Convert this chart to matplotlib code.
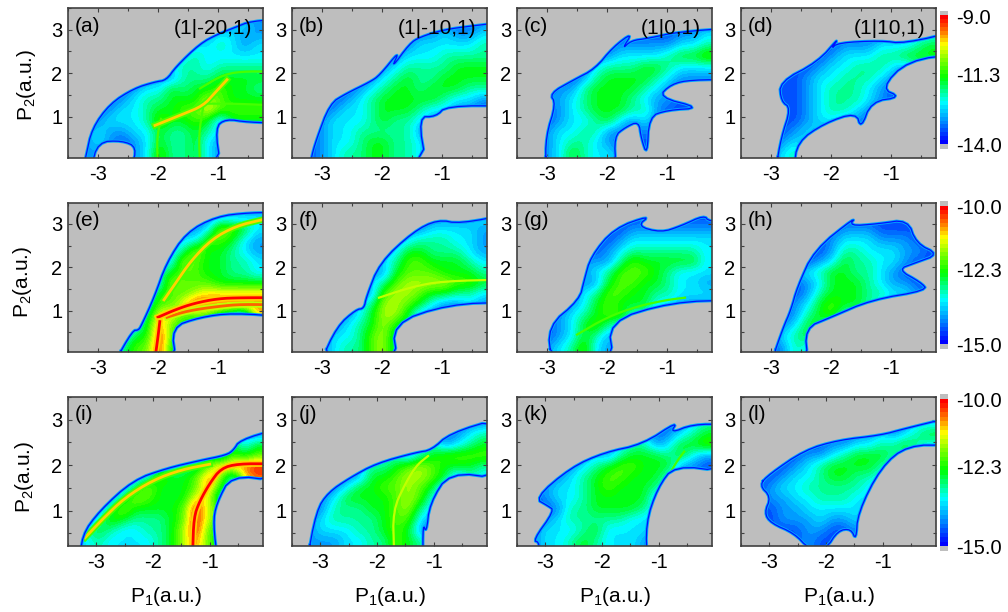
#!/usr/bin/env python3
"""Momentum maps P1-P2 for twelve field settings, three rows with own colour scales."""

import numpy as np
import matplotlib

matplotlib.use("Agg")
import matplotlib.pyplot as plt
from matplotlib.colors import LinearSegmentedColormap, ListedColormap
from matplotlib.patches import Polygon
from matplotlib.ticker import MultipleLocator

# =============================================================================
# DATA: coarse reading of each map, top row first, in half decades above the
# bottom of the colour scale (0 = below the scale, drawn grey)
# =============================================================================

PANEL_A = [
    [0, 0, 0, 0, 0, 0, 0, 0, 0, 0, 0, 0, 0, 0, 0, 0],
    [0, 0, 0, 0, 0, 0, 0, 0, 0, 0, 0, 0, 0, 2, 3, 2],
    [0, 0, 0, 0, 0, 0, 0, 0, 0, 0, 0, 1, 3, 3, 2, 1],
    [0, 0, 0, 0, 0, 0, 0, 0, 0, 0, 1, 3, 4, 3, 2, 3],
    [0, 0, 0, 0, 0, 0, 0, 0, 0, 1, 4, 3, 3, 3, 3, 3],
    [0, 0, 0, 0, 0, 0, 0, 0, 1, 4, 4, 3, 4, 4, 4, 4],
    [0, 0, 0, 0, 0, 0, 0, 0, 2, 4, 4, 4, 5, 5, 5, 5],
    [0, 0, 0, 0, 0, 0, 1, 3, 5, 4, 5, 5, 6, 5, 5, 4],
    [0, 0, 0, 0, 1, 3, 4, 4, 5, 5, 5, 7, 6, 5, 5, 5],
    [0, 0, 0, 1, 3, 3, 4, 5, 5, 6, 6, 8, 6, 6, 6, 6],
    [0, 0, 1, 3, 3, 3, 4, 6, 5, 5, 6, 5, 2, 1, 1, 1],
    [0, 1, 3, 2, 2, 3, 3, 5, 4, 4, 5, 4, 1, 0, 0, 0],
    [0, 1, 3, 1, 1, 2, 3, 5, 4, 4, 5, 3, 0, 0, 0, 0],
    [0, 2, 1, 0, 0, 2, 3, 6, 4, 4, 5, 3, 0, 0, 0, 0],
]
PANEL_B = [
    [0, 0, 0, 0, 0, 0, 0, 0, 0, 0, 0, 0, 0, 0, 0, 0],
    [0, 0, 0, 0, 0, 0, 0, 0, 0, 0, 0, 0, 0, 0, 1, 2],
    [0, 0, 0, 0, 0, 0, 0, 0, 0, 0, 0, 1, 3, 2, 2, 3],
    [0, 0, 0, 0, 0, 0, 0, 0, 0, 1, 3, 3, 3, 3, 3, 4],
    [0, 0, 0, 0, 0, 0, 0, 0, 1, 3, 3, 3, 4, 4, 4, 4],
    [0, 0, 0, 0, 0, 0, 0, 1, 3, 4, 4, 4, 4, 5, 5, 5],
    [0, 0, 0, 0, 0, 0, 1, 3, 4, 5, 4, 4, 5, 5, 5, 5],
    [0, 0, 0, 0, 0, 1, 3, 4, 5, 5, 4, 5, 5, 5, 4, 4],
    [0, 0, 0, 0, 1, 3, 4, 5, 5, 5, 5, 5, 4, 3, 3, 2],
    [0, 0, 0, 1, 3, 3, 4, 5, 5, 5, 4, 3, 1, 0, 0, 0],
    [0, 0, 1, 3, 3, 3, 4, 5, 4, 4, 3, 0, 0, 0, 0, 0],
    [0, 0, 2, 3, 3, 4, 4, 4, 4, 4, 2, 0, 0, 0, 0, 0],
    [0, 1, 2, 3, 3, 4, 5, 5, 4, 4, 1, 0, 0, 0, 0, 0],
    [0, 1, 2, 3, 4, 4, 5, 5, 4, 4, 1, 0, 0, 0, 0, 0],
]
PANEL_C = [
    [0, 0, 0, 0, 0, 0, 0, 0, 0, 0, 0, 0, 0, 0, 0, 0],
    [0, 0, 0, 0, 0, 0, 0, 0, 0, 0, 0, 0, 0, 0, 0, 0],
    [0, 0, 0, 0, 0, 0, 0, 0, 0, 1, 0, 0, 0, 1, 2, 3],
    [0, 0, 0, 0, 0, 0, 0, 0, 2, 1, 1, 1, 2, 3, 3, 4],
    [0, 0, 0, 0, 0, 0, 0, 2, 3, 3, 3, 3, 4, 5, 5, 6],
    [0, 0, 0, 0, 0, 0, 3, 4, 4, 4, 5, 5, 4, 3, 3, 3],
    [0, 0, 0, 0, 1, 2, 4, 5, 5, 5, 5, 4, 3, 1, 1, 1],
    [0, 0, 1, 2, 2, 4, 5, 5, 5, 5, 4, 3, 1, 0, 0, 0],
    [0, 1, 2, 2, 3, 4, 5, 5, 5, 4, 3, 2, 2, 1, 0, 0],
    [0, 0, 0, 1, 3, 4, 5, 5, 5, 4, 4, 2, 1, 0, 0, 0],
    [0, 0, 0, 2, 3, 3, 4, 5, 3, 2, 3, 0, 0, 0, 0, 0],
    [0, 0, 2, 3, 3, 4, 4, 2, 1, 1, 2, 0, 0, 0, 0, 0],
    [0, 0, 2, 3, 4, 4, 3, 2, 1, 0, 1, 0, 0, 0, 0, 0],
    [0, 0, 2, 3, 5, 4, 3, 3, 1, 0, 0, 0, 0, 0, 0, 0],
]
PANEL_D = [
    [0, 0, 0, 0, 0, 0, 0, 0, 0, 0, 0, 0, 0, 0, 0, 0],
    [0, 0, 0, 0, 0, 0, 0, 0, 0, 0, 0, 0, 0, 0, 0, 0],
    [0, 0, 0, 0, 0, 0, 0, 0, 1, 0, 0, 0, 0, 0, 1, 3],
    [0, 0, 0, 0, 0, 0, 0, 0, 2, 1, 1, 1, 1, 3, 4, 5],
    [0, 0, 0, 0, 0, 0, 0, 2, 3, 3, 3, 4, 4, 5, 5, 5],
    [0, 0, 0, 0, 0, 0, 2, 3, 3, 4, 4, 4, 3, 2, 0, 0],
    [0, 0, 0, 0, 1, 2, 3, 3, 4, 4, 4, 3, 1, 0, 0, 0],
    [0, 0, 0, 0, 1, 2, 3, 4, 4, 4, 3, 2, 0, 0, 0, 0],
    [0, 0, 0, 0, 1, 2, 3, 4, 4, 4, 3, 2, 1, 0, 0, 0],
    [0, 0, 0, 0, 1, 2, 3, 4, 4, 3, 2, 0, 0, 0, 0, 0],
    [0, 0, 0, 0, 0, 2, 3, 3, 2, 2, 0, 0, 0, 0, 0, 0],
    [0, 0, 0, 0, 1, 3, 2, 1, 0, 1, 0, 0, 0, 0, 0, 0],
    [0, 0, 0, 1, 3, 2, 0, 0, 0, 0, 0, 0, 0, 0, 0, 0],
    [0, 0, 0, 1, 4, 2, 0, 0, 0, 0, 0, 0, 0, 0, 0, 0],
]
PANEL_E = [
    [0, 0, 0, 0, 0, 0, 0, 0, 0, 0, 0, 0, 0, 0, 0, 0],
    [0, 0, 0, 0, 0, 0, 0, 0, 0, 0, 0, 1, 3, 3, 3, 3],
    [0, 0, 0, 0, 0, 0, 0, 0, 0, 0, 0, 3, 7, 6, 5, 3],
    [0, 0, 0, 0, 0, 0, 0, 0, 0, 0, 3, 6, 6, 5, 3, 2],
    [0, 0, 0, 0, 0, 0, 0, 0, 0, 4, 7, 5, 5, 4, 3, 2],
    [0, 0, 0, 0, 0, 0, 0, 0, 3, 7, 6, 5, 5, 4, 4, 3],
    [0, 0, 0, 0, 0, 0, 0, 1, 5, 6, 6, 5, 5, 4, 4, 3],
    [0, 0, 0, 0, 0, 0, 0, 3, 7, 6, 6, 6, 5, 5, 5, 5],
    [0, 0, 0, 0, 0, 0, 1, 5, 6, 6, 7, 8, 8, 8, 8, 8],
    [0, 0, 0, 0, 0, 0, 3, 6, 6, 8, 10, 9, 9, 9, 9, 9],
    [0, 0, 0, 0, 0, 1, 4, 8, 8, 6, 6, 6, 4, 3, 2, 1],
    [0, 0, 0, 0, 0, 3, 5, 9, 6, 1, 0, 0, 0, 0, 0, 0],
    [0, 0, 0, 0, 2, 5, 5, 10, 6, 0, 0, 0, 0, 0, 0, 0],
    [0, 0, 0, 0, 4, 6, 6, 10, 5, 0, 0, 0, 0, 0, 0, 0],
]
PANEL_F = [
    [0, 0, 0, 0, 0, 0, 0, 0, 0, 0, 0, 0, 0, 0, 0, 0],
    [0, 0, 0, 0, 0, 0, 0, 0, 0, 0, 0, 1, 0, 1, 2, 3],
    [0, 0, 0, 0, 0, 0, 0, 0, 0, 1, 2, 3, 3, 3, 3, 2],
    [0, 0, 0, 0, 0, 0, 0, 0, 0, 3, 4, 4, 4, 3, 3, 2],
    [0, 0, 0, 0, 0, 0, 0, 0, 3, 5, 5, 4, 4, 4, 3, 2],
    [0, 0, 0, 0, 0, 0, 0, 1, 4, 6, 6, 5, 5, 5, 4, 3],
    [0, 0, 0, 0, 0, 0, 0, 2, 5, 6, 6, 6, 5, 5, 5, 4],
    [0, 0, 0, 0, 0, 0, 0, 4, 6, 7, 7, 7, 7, 6, 6, 5],
    [0, 0, 0, 0, 0, 0, 2, 6, 7, 7, 6, 5, 5, 4, 4, 3],
    [0, 0, 0, 0, 0, 1, 4, 7, 7, 6, 5, 3, 2, 2, 1, 0],
    [0, 0, 0, 0, 1, 3, 5, 7, 7, 5, 2, 0, 0, 0, 0, 0],
    [0, 0, 0, 1, 3, 4, 5, 7, 5, 0, 0, 0, 0, 0, 0, 0],
    [0, 0, 1, 3, 3, 4, 6, 7, 4, 0, 0, 0, 0, 0, 0, 0],
    [0, 0, 1, 3, 4, 4, 6, 7, 4, 0, 0, 0, 0, 0, 0, 0],
]
PANEL_G = [
    [0, 0, 0, 0, 0, 0, 0, 0, 0, 0, 0, 0, 0, 0, 0, 0],
    [0, 0, 0, 0, 0, 0, 0, 0, 0, 0, 1, 0, 0, 0, 1, 1],
    [0, 0, 0, 0, 0, 0, 0, 0, 0, 2, 1, 1, 1, 1, 1, 2],
    [0, 0, 0, 0, 0, 0, 0, 0, 0, 3, 3, 3, 3, 3, 3, 3],
    [0, 0, 0, 0, 0, 0, 0, 0, 3, 4, 4, 4, 4, 4, 4, 3],
    [0, 0, 0, 0, 0, 0, 0, 2, 4, 6, 5, 5, 5, 5, 5, 3],
    [0, 0, 0, 0, 0, 0, 0, 4, 6, 6, 6, 5, 4, 3, 3, 3],
    [0, 0, 0, 0, 0, 0, 2, 5, 6, 6, 5, 5, 4, 3, 3, 2],
    [0, 0, 0, 0, 0, 1, 4, 6, 6, 5, 5, 4, 4, 3, 3, 3],
    [0, 0, 0, 0, 1, 3, 5, 6, 5, 5, 5, 3, 1, 1, 1, 0],
    [0, 0, 0, 1, 3, 4, 5, 6, 6, 3, 0, 0, 0, 0, 0, 0],
    [0, 0, 0, 2, 3, 5, 6, 4, 3, 0, 0, 0, 0, 0, 0, 0],
    [0, 0, 0, 2, 3, 5, 4, 2, 3, 0, 0, 0, 0, 0, 0, 0],
    [0, 0, 1, 3, 4, 6, 3, 2, 3, 0, 0, 0, 0, 0, 0, 0],
]
PANEL_H = [
    [0, 0, 0, 0, 0, 0, 0, 0, 0, 0, 0, 0, 0, 0, 0, 0],
    [0, 0, 0, 0, 0, 0, 0, 0, 0, 1, 0, 0, 0, 0, 0, 0],
    [0, 0, 0, 0, 0, 0, 0, 0, 2, 2, 1, 1, 1, 1, 0, 0],
    [0, 0, 0, 0, 0, 0, 0, 0, 3, 3, 3, 2, 2, 2, 1, 0],
    [0, 0, 0, 0, 0, 0, 0, 2, 4, 4, 3, 3, 3, 2, 2, 1],
    [0, 0, 0, 0, 0, 0, 0, 3, 5, 4, 4, 3, 3, 1, 1, 0],
    [0, 0, 0, 0, 0, 0, 1, 5, 5, 4, 4, 3, 2, 0, 0, 0],
    [0, 0, 0, 0, 0, 0, 3, 5, 5, 5, 4, 3, 2, 1, 1, 0],
    [0, 0, 0, 0, 0, 2, 4, 5, 5, 5, 4, 4, 3, 3, 2, 0],
    [0, 0, 0, 0, 0, 3, 5, 6, 5, 5, 1, 0, 0, 0, 0, 0],
    [0, 0, 0, 0, 2, 4, 5, 6, 3, 0, 0, 0, 0, 0, 0, 0],
    [0, 0, 0, 0, 3, 5, 5, 2, 0, 0, 0, 0, 0, 0, 0, 0],
    [0, 0, 0, 1, 4, 5, 2, 0, 0, 0, 0, 0, 0, 0, 0, 0],
    [0, 0, 0, 2, 4, 3, 0, 0, 0, 0, 0, 0, 0, 0, 0, 0],
]
PANEL_I = [
    [0, 0, 0, 0, 0, 0, 0, 0, 0, 0, 0, 0, 0, 0, 0, 0],
    [0, 0, 0, 0, 0, 0, 0, 0, 0, 0, 0, 0, 0, 0, 0, 0],
    [0, 0, 0, 0, 0, 0, 0, 0, 0, 0, 0, 0, 0, 0, 0, 0],
    [0, 0, 0, 0, 0, 0, 0, 0, 0, 0, 0, 0, 0, 0, 0, 2],
    [0, 0, 0, 0, 0, 0, 0, 0, 0, 0, 0, 0, 0, 0, 3, 5],
    [0, 0, 0, 0, 0, 0, 0, 0, 0, 0, 0, 1, 2, 6, 5, 6],
    [0, 0, 0, 0, 0, 0, 0, 1, 3, 4, 4, 6, 9, 9, 9, 10],
    [0, 0, 0, 0, 0, 1, 3, 6, 5, 5, 6, 9, 7, 2, 0, 0],
    [0, 0, 0, 0, 1, 4, 7, 5, 5, 5, 6, 9, 5, 0, 0, 0],
    [0, 0, 0, 1, 4, 7, 6, 5, 5, 5, 8, 8, 3, 0, 0, 0],
    [0, 0, 1, 4, 7, 5, 5, 5, 5, 6, 10, 7, 1, 0, 0, 0],
    [0, 0, 3, 6, 5, 4, 4, 4, 5, 6, 10, 7, 1, 0, 0, 0],
    [0, 1, 5, 4, 3, 3, 4, 4, 5, 7, 10, 6, 0, 0, 0, 0],
    [0, 3, 4, 3, 3, 3, 3, 4, 5, 7, 9, 6, 0, 0, 0, 0],
]
PANEL_J = [
    [0, 0, 0, 0, 0, 0, 0, 0, 0, 0, 0, 0, 0, 0, 0, 0],
    [0, 0, 0, 0, 0, 0, 0, 0, 0, 0, 0, 0, 0, 0, 0, 0],
    [0, 0, 0, 0, 0, 0, 0, 0, 0, 0, 0, 0, 0, 1, 2, 2],
    [0, 0, 0, 0, 0, 0, 0, 0, 0, 0, 0, 0, 1, 2, 3, 4],
    [0, 0, 0, 0, 0, 0, 0, 0, 0, 0, 0, 0, 2, 3, 4, 5],
    [0, 0, 0, 0, 0, 0, 0, 0, 1, 2, 4, 5, 6, 6, 6, 6],
    [0, 0, 0, 0, 0, 0, 1, 4, 5, 6, 7, 6, 5, 5, 5, 4],
    [0, 0, 0, 0, 0, 2, 5, 5, 6, 7, 7, 6, 5, 2, 1, 1],
    [0, 0, 0, 0, 3, 5, 5, 6, 6, 7, 6, 5, 2, 0, 0, 0],
    [0, 0, 0, 3, 5, 5, 5, 5, 6, 7, 6, 3, 0, 0, 0, 0],
    [0, 0, 2, 4, 4, 4, 5, 5, 6, 7, 4, 0, 0, 0, 0, 0],
    [0, 0, 3, 4, 4, 4, 4, 5, 6, 6, 3, 0, 0, 0, 0, 0],
    [0, 2, 3, 3, 3, 4, 4, 5, 6, 5, 2, 0, 0, 0, 0, 0],
    [0, 2, 2, 2, 3, 3, 4, 4, 6, 5, 1, 0, 0, 0, 0, 0],
]
PANEL_K = [
    [0, 0, 0, 0, 0, 0, 0, 0, 0, 0, 0, 0, 0, 0, 0, 0],
    [0, 0, 0, 0, 0, 0, 0, 0, 0, 0, 0, 0, 0, 0, 0, 0],
    [0, 0, 0, 0, 0, 0, 0, 0, 0, 0, 0, 0, 1, 1, 1, 1],
    [0, 0, 0, 0, 0, 0, 0, 0, 0, 0, 0, 1, 2, 3, 4, 5],
    [0, 0, 0, 0, 0, 0, 0, 0, 0, 0, 1, 2, 3, 5, 5, 6],
    [0, 0, 0, 0, 0, 0, 0, 2, 4, 5, 5, 5, 4, 5, 3, 2],
    [0, 0, 0, 0, 1, 3, 4, 5, 6, 6, 5, 5, 5, 2, 1, 1],
    [0, 0, 1, 2, 3, 4, 5, 6, 6, 5, 5, 5, 3, 0, 0, 0],
    [0, 2, 2, 3, 3, 4, 5, 6, 5, 5, 5, 4, 0, 0, 0, 0],
    [0, 1, 2, 3, 3, 4, 5, 5, 5, 5, 5, 2, 0, 0, 0, 0],
    [0, 0, 1, 2, 4, 4, 5, 5, 5, 5, 4, 0, 0, 0, 0, 0],
    [0, 0, 2, 3, 4, 4, 4, 4, 4, 3, 3, 0, 0, 0, 0, 0],
    [0, 1, 3, 3, 3, 4, 5, 3, 3, 3, 3, 0, 0, 0, 0, 0],
    [1, 2, 3, 3, 4, 5, 4, 3, 3, 3, 2, 0, 0, 0, 0, 0],
]
PANEL_L = [
    [0, 0, 0, 0, 0, 0, 0, 0, 0, 0, 0, 0, 0, 0, 0, 0],
    [0, 0, 0, 0, 0, 0, 0, 0, 0, 0, 0, 0, 0, 0, 0, 0],
    [0, 0, 0, 0, 0, 0, 0, 0, 0, 0, 0, 0, 0, 0, 1, 3],
    [0, 0, 0, 0, 0, 0, 0, 0, 0, 0, 0, 1, 2, 3, 4, 5],
    [0, 0, 0, 0, 0, 0, 0, 1, 2, 3, 3, 4, 4, 5, 4, 3],
    [0, 0, 0, 0, 0, 1, 2, 3, 4, 5, 5, 5, 4, 1, 0, 0],
    [0, 0, 0, 1, 2, 3, 4, 5, 5, 5, 5, 4, 1, 0, 0, 0],
    [0, 1, 1, 2, 3, 3, 4, 5, 5, 4, 4, 3, 0, 0, 0, 0],
    [0, 1, 2, 3, 3, 4, 4, 4, 4, 4, 3, 1, 0, 0, 0, 0],
    [0, 0, 2, 2, 3, 3, 4, 4, 4, 3, 3, 0, 0, 0, 0, 0],
    [0, 0, 1, 2, 2, 3, 3, 3, 3, 3, 1, 0, 0, 0, 0, 0],
    [0, 0, 1, 2, 2, 2, 3, 2, 2, 3, 0, 0, 0, 0, 0, 0],
    [0, 0, 0, 0, 1, 2, 2, 1, 1, 2, 0, 0, 0, 0, 0, 0],
    [0, 0, 0, 0, 0, 2, 1, 1, 0, 1, 0, 0, 0, 0, 0, 0],
]

# outer edge of the signal in each map, (P1, P2)
EDGE_A = [(-3.25, -0.2), (-3.2, 0.1), (-3.1, 0.73), (-2.8, 1.3), (-2.4, 1.65), (-2.05, 1.8), (-1.86, 1.84),
          (-1.7, 2.15), (-1.3, 2.68), (-1, 2.9), (-0.72, 3.05), (-0.45, 3.2), (0.2, 3.25), (0.2, 0.85),
          (-0.5, 0.87), (-0.87, 0.95), (-1.05, 0.75), (-0.95, -0.2), (-2.45, -0.2), (-2.35, 0.3), (-2.6, 0.45),
          (-3, 0.42), (-3.12, -0.2)]
EDGE_B = [(-3.2, -0.2), (-3.18, 0.05), (-3.1, 0.45), (-2.87, 1.3), (-2.6, 1.53), (-2.2, 1.8), (-2.04, 1.95),
          (-1.7, 2.53), (-1.85, 2.1), (-1.54, 2.68), (-1.37, 2.83), (-0.98, 3), (-0.43, 3.1), (0.2, 3.2),
          (0.2, 1.25), (-0.93, 1.25), (-1.1, 1), (-1.4, 1), (-1.25, -0.2)]
EDGE_C = [(-3.02, -0.2), (-3.02, 0.55), (-2.85, 1.3), (-2.96, 1.53), (-2.55, 1.85), (-2.2, 2.1), (-1.9, 2.6),
          (-1.57, 2.94), (-1.75, 2.55), (-1.6, 2.75), (-1.32, 2.8), (-0.82, 2.95), (0.2, 3.05), (0.2, 1.85),
          (-0.6, 1.85), (-0.93, 1.75), (-1.15, 1.45), (-0.43, 1.2), (-1, 1.15), (-1.3, 1), (-1.33, 0.1),
          (-1.43, 0.5), (-1.47, 0.9), (-1.7, 0.75), (-1.88, 0.55), (-1.85, -0.2)]
EDGE_D = [(-2.92, -0.2), (-2.83, 0.52), (-2.67, 1.2), (-2.83, 1.35), (-2.86, 1.8), (-2.22, 2.26), (-1.86, 2.83),
          (-2, 2.55), (-1.89, 2.7), (-1.17, 2.75), (-0.78, 2.68), (0.2, 3), (0.2, 2.45), (-0.72, 2.3),
          (-1.17, 1.65), (-0.83, 1.45), (-1.33, 1.35), (-1.5, 0.72), (-1.58, 1.1), (-2.11, 0.85), (-2.56, 0.42),
          (-2.62, -0.2)]
EDGE_E = [(-2.73, -0.2), (-2.42, 0.55), (-2.33, 0.55), (-2.28, 0.65), (-2.06, 1.32), (-1.86, 2.1), (-1.53, 2.8),
          (-1.03, 3.17), (-0.47, 3.26), (0.2, 3.26), (0.2, 0.85), (-0.75, 0.95), (-1.3, 0.85), (-1.78, 0.62),
          (-1.69, -0.2)]
EDGE_F = [(-3.03, -0.2), (-2.75, 0.64), (-2.43, 1.03), (-2.3, 1.05), (-2.26, 1.32), (-2.04, 2.1), (-1.48, 2.82),
          (-1.07, 3.1), (-0.7, 3), (0.2, 3.25), (0.2, 1.2), (-0.9, 1.15), (-1.84, 0.7), (-1.73, -0.2)]
EDGE_G = [(-2.92, -0.2), (-2.99, 0.64), (-2.46, 1.25), (-2.38, 1.7), (-2.27, 2.25), (-1.88, 2.9), (-1.27, 3.2),
          (-1.5, 2.95), (-1.1, 2.8), (-0.77, 2.95), (-0.38, 3.2), (-0.3, 3.05), (0.2, 3.05), (0.2, 1.25),
          (-0.93, 1.2), (-1.99, 0.75), (-1.88, -0.2)]
EDGE_H = [(-3, -0.2), (-2.8, 0.6), (-2.67, 1.01), (-2.56, 1.55), (-2.28, 2.4), (-1.58, 3.17), (-1.7, 2.95),
          (-1.22, 3), (-0.72, 3.1), (-0.58, 2.55), (-0.2, 2.3), (-0.6, 2.1), (-0.89, 1.95), (-0.5, 1.65),
          (-0.39, 1.47), (-1.33, 1.25), (-2, 0.85), (-2.44, 0.6), (-2.38, -0.2)]
EDGE_I = [(-3.28, -0.2), (-3.26, 0.45), (-2.94, 1), (-2.35, 1.67), (-1.76, 1.93), (-1.18, 2.1), (-0.71, 2.22),
          (-0.58, 2.33), (-0.47, 2.55), (0.2, 2.8), (0.2, 1.65), (-0.62, 1.78), (-0.88, 1.16), (-0.94, 0.72),
          (-0.85, -0.2)]
EDGE_J = [(-3.25, -0.2), (-3.07, 1), (-2.86, 1.4), (-2.48, 1.72), (-2.01, 2.04), (-1.31, 2.28), (-1.04, 2.33),
          (-0.72, 2.7), (0.2, 3.05), (0.2, 1.7), (-0.72, 1.85), (-1.07, 1.16), (-1.13, 0.5), (-1.19, 0.72),
          (-1.19, -0.2)]
EDGE_K = [(-3.1, -0.2), (-3.1, 0.3), (-3.22, 0.34), (-2.84, 1), (-2.95, 1.1), (-3.19, 1.27), (-2.55, 1.95),
          (-1.96, 2.28), (-1.28, 2.46), (-0.66, 2.97), (-0.8, 2.7), (-0.4, 2.9), (0.2, 2.9), (0.2, 1.85),
          (-0.72, 2), (-1.02, 1.5), (-1.23, 0.72), (-1.2, -0.2)]
EDGE_L = [(-3.18, 1.56), (-3, 1.8), (-2.38, 2.33), (-1.79, 2.55), (-1.03, 2.66), (-0.62, 2.8), (0.2, 3.05),
          (0.2, 2.44), (-0.56, 2.44), (-1.03, 1.96), (-1.44, 0.95), (-1.47, 0.34), (-1.56, 0.6), (-1.79, 0.56),
          (-2, 0.15), (-2.3, 0.15), (-2.56, 0.5), (-2.97, 0.72), (-3.09, 0.95), (-2.97, 1.3)]

# bright ridges narrower than the grid: panel index, level, P1, P2
RIDGES = [
    (0, 6, [-2, -2.02, -1.95], [-0.1, 0.5, 0.95]),
    (0, 6, [-1.3, -1.32, -1.25], [-0.1, 0.6, 1.2]),
    (0, 6, [-1.2, -0.7, 0.1], [1.3, 1.3, 1.25]),
    (0, 6, [-1.3, -0.9, -0.5, 0.1], [1.65, 1.98, 2.05, 2.02]),
    (0, 8, [-2.05, -1.6, -1.25, -1.05, -0.85], [0.8, 1.05, 1.25, 1.55, 1.85]),
    (4, 8, [-1.9, -1.7, -1.45, -1.1, -0.7, -0.25], [1.25, 1.65, 2.15, 2.65, 2.95, 3.1]),
    (4, 9, [-1.85, -1.5, -1, -0.6, 0.1], [0.85, 1, 1.1, 1.15, 1.13]),
    (4, 10, [-2, -1.7, -1.4, -1, -0.6, 0.1], [0.85, 1.03, 1.17, 1.28, 1.3, 1.3]),
    (4, 10, [-2.05, -2, -1.97], [-0.1, 0.4, 0.75]),
    (5, 7, [-2.05, -1.5, -1, 0.1], [1.3, 1.55, 1.68, 1.72]),
    (6, 6, [-2.5, -2, -1.5, -1, -0.7], [0.45, 0.85, 1.1, 1.25, 1.3]),
    (8, 8, [-3.2, -2.9, -2.5, -2, -1.5, -1], [0.4, 0.8, 1.28, 1.67, 1.9, 2.02]),
    (8, 10, [-1.3, -1.28, -1.18, -1, -0.8, -0.5, 0.1], [0.1, 0.85, 1.2, 1.6, 1.93, 2.03, 2.03]),
    (9, 7, [-1.7, -1.72, -1.5, -1.3, -1.1], [0.1, 1, 1.6, 2, 2.2]),
    (10, 6, [-1.08, -0.92, -0.7, -0.55], [1.0, 1.55, 2.05, 2.3]),
]

PANELS = [
    [PANEL_A, PANEL_B, PANEL_C, PANEL_D],
    [PANEL_E, PANEL_F, PANEL_G, PANEL_H],
    [PANEL_I, PANEL_J, PANEL_K, PANEL_L],
]
EDGES = [
    [EDGE_A, EDGE_B, EDGE_C, EDGE_D],
    [EDGE_E, EDGE_F, EDGE_G, EDGE_H],
    [EDGE_I, EDGE_J, EDGE_K, EDGE_L],
]
PANEL_LABELS = ["(a)", "(b)", "(c)", "(d)", "(e)", "(f)", "(g)", "(h)", "(i)", "(j)", "(k)", "(l)"]
TOP_LABELS = ["(1|-20,1)", "(1|-10,1)", "(1|0,1)", "(1|10,1)"]

SCALE_MIN = [-14.0, -15.0, -15.0]
SCALE_MID = [-11.3, -12.3, -12.3]
SCALE_MAX = [-9.0, -10.0, -10.0]
X_RANGE = [(-3.5, -0.25), (-3.5, -0.25), (-3.5, -0.06)]
Y_RANGE = [(0.05, 3.5), (0.05, 3.48), (0.22, 3.5)]

X_TICKS = [-3, -2, -1]
X_TICK_LABELS = ["-3", "-2", "-1"]
Y_TICKS = [1, 2, 3]

# =============================================================================
# LAYOUT (pixels from top left)
# =============================================================================

W, H = 1008, 612
LEFTS = [68, 292, 517, 741]
TOPS = [8, 203, 397]
PANEL_W = 195
PANEL_H_PX = [150, 149, 149]
CBAR_TOPS = [16, 206, 399]
CBAR_HEIGHTS = [128, 138, 147]
GREY = "#bebebe"
EDGE_COLOR = "#404040"
STEP = 0.5

plt.rcParams["font.family"] = ["Liberation Sans", "DejaVu Sans"]
plt.rcParams["mathtext.default"] = "regular"
plt.rcParams["axes.unicode_minus"] = False


def px_axes(fig, left, top, width, height):
    return fig.add_axes([left / W, 1 - (top + height) / H, width / W, height / H])


def make_cmap():
    anchors = [
        (0.00, "#0000ff"),
        (0.15, "#0080ff"),
        (0.32, "#00ffff"),
        (0.52, "#00ff00"),
        (0.66, "#80ff00"),
        (0.78, "#ffff00"),
        (0.88, "#ff8000"),
        (1.00, "#ff0000"),
    ]
    smooth = LinearSegmentedColormap.from_list("rainbow", anchors)
    cmap = ListedColormap(smooth(np.linspace(0, 1, 33)))
    cmap.set_under(GREY)
    cmap.set_over(GREY)
    return cmap


def neighbour_max(grid):
    padded = np.pad(grid, 1, mode="edge")
    return np.max([padded[:-2, 1:-1], padded[2:, 1:-1], padded[1:-1, :-2], padded[1:-1, 2:]], axis=0)


def spread_levels(levels):
    """Carry levels out past the signal edge, the edge polygon does the cutting."""
    out = levels.copy()
    for _ in range(2):
        around = neighbour_max(out)
        low = out <= 1
        out[low] = np.maximum(out[low], around[low] - 1)
    for _ in range(3):
        around = neighbour_max(out)
        empty = out == 0
        out[empty] = around[empty]
    return out


def round_corners(points, closed, passes=2):
    """Corner cutting so the hand read edges do not look like straight pieces."""
    pts = np.array(points, dtype=float)
    for _ in range(passes):
        nxt = np.roll(pts, -1, axis=0) if closed else pts[1:]
        cur = pts if closed else pts[:-1]
        cut = np.empty((2 * len(cur), 2))
        cut[0::2] = 0.75 * cur + 0.25 * nxt
        cut[1::2] = 0.25 * cur + 0.75 * nxt
        if not closed:
            cut = np.vstack([pts[0], cut, pts[-1]])
        pts = cut
    return pts


def main():
    fig = plt.figure(figsize=(W / 100, H / 100), dpi=100)
    cmap = make_cmap()

    for row in range(3):
        vmin, vmax = SCALE_MIN[row], SCALE_MAX[row]
        for col in range(4):
            ax = px_axes(fig, LEFTS[col], TOPS[row], PANEL_W, PANEL_H_PX[row])
            levels = spread_levels(np.array(PANELS[row][col], dtype=float))
            values = np.where(levels > 0, vmin + STEP * levels, vmin - 1.5)
            image = ax.imshow(
                values,
                extent=[*X_RANGE[row], *Y_RANGE[row]],
                origin="upper",
                aspect="auto",
                cmap=cmap,
                vmin=vmin,
                vmax=vmax,
                interpolation="bicubic",
            )
            outline = round_corners(EDGES[row][col], closed=True)
            patch = Polygon(outline, closed=True, transform=ax.transData)
            image.set_clip_path(patch)

            # bright ridges, kept inside the signal, the strong ones with a halo
            panel_index = row * 4 + col
            for index, level, ridge_x, ridge_y in RIDGES:
                if index != panel_index:
                    continue
                ridge = round_corners(list(zip(ridge_x, ridge_y)), closed=False)
                if level >= 8:
                    halo, = ax.plot(ridge[:, 0], ridge[:, 1], color=cmap((level - 2) / 10), lw=4.5)
                    halo.set_clip_path(patch)
                line, = ax.plot(ridge[:, 0], ridge[:, 1], color=cmap(level / 10),
                                lw=2.0 if level >= 8 else 1.6)
                line.set_clip_path(patch)

            # blue rim with a lighter band inside it
            edge_x = np.append(outline[:, 0], outline[0, 0])
            edge_y = np.append(outline[:, 1], outline[0, 1])
            ax.plot(edge_x, edge_y, color="#00a8ff", lw=2.2)
            ax.plot(edge_x, edge_y, color="#0010ff", lw=0.9)

            ax.set_facecolor(GREY)
            ax.set_xlim(*X_RANGE[row])
            ax.set_ylim(*Y_RANGE[row])
            ax.set_xticks(X_TICKS)
            ax.set_xticklabels(X_TICK_LABELS)
            ax.set_yticks(Y_TICKS)
            ax.xaxis.set_minor_locator(MultipleLocator(0.5))
            ax.yaxis.set_minor_locator(MultipleLocator(0.5))
            ax.tick_params(which="major", direction="in", top=True, right=True,
                           length=3, width=0.8, color=EDGE_COLOR, labelsize=14.5, pad=5)
            ax.tick_params(which="minor", direction="in", top=True, right=True,
                           length=2, width=0.8, color=EDGE_COLOR)
            ax.tick_params(axis="y", which="major", pad=4)
            for spine in ax.spines.values():
                spine.set_linewidth(1.2)
                spine.set_color(EDGE_COLOR)

            ax.text(7 / PANEL_W, 1 - 18 / PANEL_H_PX[row], PANEL_LABELS[panel_index],
                    transform=ax.transAxes, fontsize=15, va="center", ha="left")
            if row == 0:
                ax.text(1 - 11 / PANEL_W, 1 - 20 / PANEL_H_PX[row], TOP_LABELS[col],
                        transform=ax.transAxes, fontsize=15, va="center", ha="right")

        # colour scale with grey end caps
        cax = px_axes(fig, 940, CBAR_TOPS[row] - 5, 8, CBAR_HEIGHTS[row] + 10)
        gradient = np.linspace(vmin, vmax, 33).reshape(-1, 1)
        cax.imshow(gradient, extent=[0, 1, vmin, vmax], origin="lower", aspect="auto",
                   cmap=cmap, vmin=vmin, vmax=vmax, interpolation="nearest")
        margin = 5 * (vmax - vmin) / CBAR_HEIGHTS[row]
        cax.set_ylim(vmin - margin, vmax + margin)
        cax.set_facecolor(GREY)
        cax.set_xticks([])
        cax.yaxis.tick_right()
        cax.set_yticks([vmin, SCALE_MID[row], vmax])
        cax.set_yticklabels([f"{vmin:.1f}", f"{SCALE_MID[row]:.1f}", f"{vmax:.1f}"])
        cax.tick_params(axis="y", length=0, labelsize=14.5, pad=6)
        for spine in cax.spines.values():
            spine.set_visible(False)

    # shared axis names
    for x_px, y_px in [(27, 85), (22, 282), (25, 477)]:
        fig.text(x_px / W, 1 - y_px / H, "P$_2$(a.u.)", rotation=90, fontsize=15,
                 ha="center", va="center")
    for left in LEFTS:
        fig.text((left + 98) / W, 1 - 597 / H, "P$_1$(a.u.)", fontsize=15,
                 ha="center", va="center")

    fig.savefig("out.png", dpi=100, facecolor="white")


if __name__ == "__main__":
    main()
